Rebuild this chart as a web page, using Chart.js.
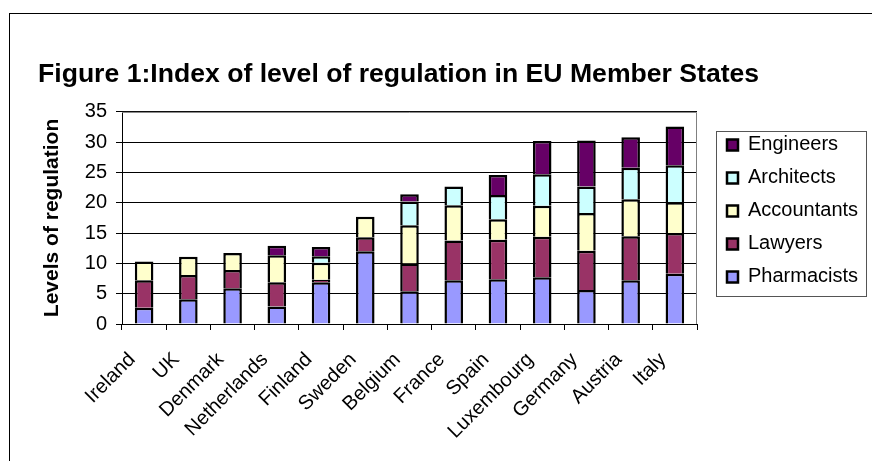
<!DOCTYPE html>
<html>
<head>
<meta charset="utf-8">
<script src="https://cdn.jsdelivr.net/npm/chart.js@4/dist/chart.umd.min.js"></script>
<style>
  html, body { margin: 0; padding: 0; background: #fff; overflow: hidden; }
  #frame { position: absolute; left: 9px; top: 13px; width: 900px; height: 500px; border: 1px solid #000; box-sizing: border-box; }
  #wrap { position: absolute; left: 0; top: 0; width: 872px; height: 461px; }
</style>
</head>
<body>
<div id="frame"></div>
<div id="wrap"><canvas id="chart"></canvas></div>
<script>
// Valores (incrementos por profissão)
const countries = ['Ireland', 'UK', 'Denmark', 'Netherlands', 'Finland', 'Sweden', 'Belgium',
  'France', 'Spain', 'Luxembourg', 'Germany', 'Austria', 'Italy'];
const pharmacists = [2.7, 4.1, 5.9, 2.9, 6.9, 12.0, 5.4, 7.2, 7.4, 7.7, 5.6, 7.2, 8.3];
const lawyers = [4.5, 4.0, 3.0, 4.0, 0.4, 2.3, 4.6, 6.6, 6.5, 6.7, 6.5, 7.3, 6.7];
const accountants = [3.1, 3.0, 2.8, 4.45, 2.8, 3.4, 6.3, 5.8, 3.4, 5.1, 6.2, 6.1, 5.1];
const architects = [null, null, null, null, 1.1, null, 3.9, 3.1, 4.0, 5.2, 4.4, 5.2, 6.1];
const engineers = [null, null, null, 1.55, 1.5, null, 1.2, null, 3.3, 5.5, 7.6, 5.0, 6.4];
const yTicks = [0, 5, 10, 15, 20, 25, 30, 35];

const FONT = '"Liberation Sans", Arial, sans-serif';
const LEGEND_W = 158;

// largura fixa da legenda (o Chart.js calcula pouco e corta o texto)
const legendWidthPlugin = {
  id: 'legendWidth',
  beforeLayout(chart) {
    const lg = chart.legend;
    if (!lg || lg._fixedW) return;
    const fit = lg.fit.bind(lg);
    lg.fit = function() {
      fit();
      this.width = LEGEND_W;
    };
    lg._fixedW = true;
  }
};

// borda cinza da área do gráfico e moldura da legenda
const framePlugin = {
  id: 'framePlugin',
  beforeDatasetsDraw(chart) {
    const { ctx, chartArea: a } = chart;
    ctx.save();
    ctx.strokeStyle = '#808080';
    ctx.lineWidth = 1;
    ctx.beginPath();
    ctx.moveTo(a.left, a.top + 0.5);
    ctx.lineTo(a.right - 0.5, a.top + 0.5);
    ctx.lineTo(a.right - 0.5, a.bottom);
    ctx.stroke();
    ctx.restore();
  },
  afterDraw(chart) {
    const boxes = chart.legend.legendHitBoxes;
    if (!boxes || !boxes.length) return;
    let x0 = Infinity, y0 = Infinity, y1 = -Infinity;
    boxes.forEach(b => {
      x0 = Math.min(x0, b.left);
      y0 = Math.min(y0, b.top);
      y1 = Math.max(y1, b.top + b.height);
    });
    const ctx = chart.ctx;
    ctx.save();
    ctx.strokeStyle = '#555';
    ctx.lineWidth = 1;
    ctx.strokeRect(Math.round(x0 - 11) + 0.5, Math.round(y0 - 4) + 0.5,
      150, Math.round(y1 - y0 + 13));
    ctx.restore();
  }
};

function makeSet(label, data, color) {
  return {
    label: label,
    data: data,
    backgroundColor: color,
    borderColor: '#000',
    borderWidth: 2.5,
    barPercentage: 0.42,
    categoryPercentage: 1.0
  };
}

new Chart(document.getElementById('chart'), {
  type: 'bar',
  data: {
    labels: countries,
    datasets: [
      makeSet('Pharmacists', pharmacists, '#9999FF'),
      makeSet('Lawyers', lawyers, '#993366'),
      makeSet('Accountants', accountants, '#FFFFCC'),
      makeSet('Architects', architects, '#CCFFFF'),
      makeSet('Engineers', engineers, '#660066')
    ]
  },
  options: {
    responsive: true,
    maintainAspectRatio: false,
    animation: false,
    layout: { padding: { left: 38, right: 0, top: 0, bottom: 0 } },
    plugins: {
      title: {
        display: true,
        text: 'Figure 1:Index of level of regulation in EU Member States',
        align: 'start',
        color: '#000',
        font: { family: FONT, size: 26.6, weight: 'bold' },
        padding: { top: 59, bottom: 21 }
      },
      legend: {
        position: 'right',
        fullSize: false,
        align: 'start',
        reverse: true,
        title: { display: true, text: ' ', font: { size: 10, lineHeight: 1 }, padding: 0 },
        labels: {
          color: '#000',
          font: { family: FONT, size: 20 },
          boxWidth: 11,
          boxHeight: 11,
          padding: 13,
          useBorderRadius: false
        }
      },
      tooltip: { enabled: false }
    },
    scales: {
      x: {
        stacked: true,
        offset: true,
        grid: { display: true, drawOnChartArea: false, color: '#000', tickLength: 6, offset: true },
        border: { color: '#000', width: 1 },
        ticks: { color: '#000', font: { family: FONT, size: 20 }, maxRotation: 45, minRotation: 45,
          autoSkip: false, padding: 18, labelOffset: -12 },
        afterFit(scale) { scale.height = 461 - 324; }
      },
      y: {
        stacked: true,
        min: 0,
        max: 35,
        afterBuildTicks(scale) { scale.ticks = yTicks.map(v => ({ value: v })); },
        grid: { color: '#000', tickLength: 6 },
        border: { color: '#000', width: 1 },
        ticks: { color: '#000', font: { family: FONT, size: 20 }, padding: 9 },
        title: {
          display: true,
          text: 'Levels of regulation',
          color: '#000',
          font: { family: FONT, size: 21, weight: 'bold' },
          padding: { top: 2, bottom: 2 }
        },
        afterFit(scale) { scale.width = 122 - 38; }
      },
      // espaço vazio entre a área do gráfico e a legenda
      gap: {
        type: 'linear',
        position: 'right',
        display: true,
        grid: { display: false },
        border: { display: false },
        ticks: { display: false },
        afterFit(scale) { scale.width = 17; }
      }
    }
  },
  plugins: [legendWidthPlugin, framePlugin]
});
</script>
</body>
</html>
